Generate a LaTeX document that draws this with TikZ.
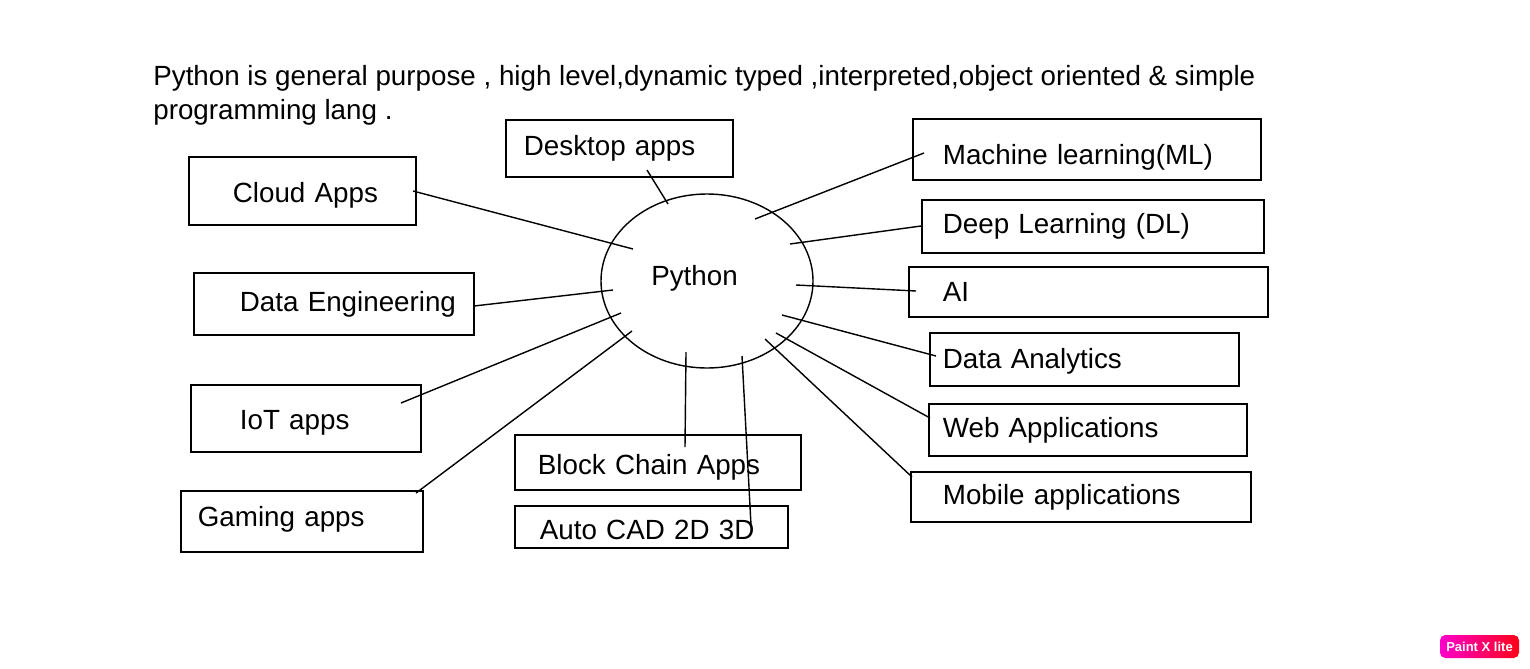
\documentclass[tikz,border=0pt]{standalone}
\usepackage{fontspec}
\setmainfont{Liberation Sans}
\usetikzlibrary{shapes.geometric}

\tikzset{
	appbox/.style={draw, line width=1pt, anchor=north west, align=left, inner xsep=0pt, font=\fontsize{15.8}{19}\selectfont},
	link/.style={line width=0.8pt}
}

\begin{document}
\begin{tikzpicture}
	\useasboundingbox (0,0) rectangle (30.6,-13.36);
	
	% title
	\node[anchor=north west, inner sep=0pt, align=left, font=\fontsize{15.8}{19.3}\selectfont] (title) at (3.06,-1.31)
	{Python is general purpose , high level,dynamic typed ,interpreted,object oriented \& simple\\programming lang .};
	
	% centre
	\node[ellipse, draw, line width=0.8pt, minimum width=4.24cm, minimum height=3.48cm, text depth=0.24cm, font=\fontsize{15.8}{19}\selectfont] (python) at (14.14,-5.62) {Python\kern0.5cm};
	
	% draw boxes left
	\node[appbox, minimum height=1.14cm, text width=4.54cm] (desktop) at (10.10,-2.38) {\hspace*{0.36cm}Desktop apps};
	\node[appbox, minimum height=1.36cm, text width=4.54cm, text height=0.57cm, text depth=0.12cm] (cloud) at (3.76,-3.12) {\hspace*{0.88cm}Cloud Apps};
	\node[appbox, minimum height=1.24cm, text width=5.60cm] (dataeng) at (3.86,-5.44) {\hspace*{0.92cm}Data Engineering};
	\node[appbox, minimum height=1.34cm, text width=4.60cm, text height=0.57cm, text depth=0.12cm] (iot) at (3.80,-7.68) {\hspace*{0.98cm}IoT apps};
	\node[appbox, minimum height=1.22cm, text width=4.84cm, text depth=0.20cm] (gaming) at (3.60,-9.80) {\hspace*{0.34cm}Gaming apps};
	\node[appbox, minimum height=1.10cm, text width=5.72cm, text height=0.60cm, text depth=0.12cm] (block) at (10.28,-8.68) {\hspace*{0.46cm}Block Chain Apps};
	\node[appbox, minimum height=0.84cm, text width=5.46cm, text height=0.52cm, text depth=0cm, inner ysep=0pt] (autocad) at (10.28,-10.10) {\hspace*{0.50cm}Auto CAD 2D 3D};
	
	% draw boxes right
	\node[appbox, minimum height=1.22cm, text width=6.96cm, text height=0.72cm, text depth=0.12cm, inner ysep=0.15cm] (ml) at (18.24,-2.36) {\hspace*{0.60cm}Machine learning(ML)};
	\node[appbox, minimum height=1.06cm, text width=6.84cm] (dl) at (18.42,-3.98) {\hspace*{0.42cm}Deep Learning (DL)};
	\node[appbox, minimum height=1.00cm, text width=7.18cm] (ai) at (18.16,-5.32) {\hspace*{0.68cm}AI};
	\node[appbox, minimum height=1.06cm, text width=6.18cm, text height=0.49cm, text depth=0.12cm] (analytics) at (18.58,-6.64) {\hspace*{0.26cm}Data Analytics};
	\node[appbox, minimum height=1.04cm, text width=6.36cm] (web) at (18.56,-8.06) {\hspace*{0.28cm}Web Applications};
	\node[appbox, minimum height=1.00cm, text width=6.80cm] (mobile) at (18.20,-9.42) {\hspace*{0.64cm}Mobile applications};
	
	% line ends
	\coordinate (cloud-a) at (8.26,-3.82);     \coordinate (cloud-b) at (12.66,-4.98);
	\coordinate (desktop-a) at (12.94,-3.40);  \coordinate (desktop-b) at (13.36,-4.08);
	\coordinate (ml-a) at (18.48,-3.06);       \coordinate (ml-b) at (15.10,-4.38);
	\coordinate (dl-a) at (18.42,-4.52);       \coordinate (dl-b) at (15.80,-4.88);
	\coordinate (ai-a) at (18.32,-5.82);       \coordinate (ai-b) at (15.92,-5.70);
	\coordinate (dataeng-a) at (9.48,-6.12);   \coordinate (dataeng-b) at (12.26,-5.80);
	\coordinate (iot-a) at (8.02,-8.06);       \coordinate (iot-b) at (12.42,-6.26);
	\coordinate (gaming-a) at (8.32,-9.86);    \coordinate (gaming-b) at (12.64,-6.62);
	\coordinate (block-a) at (13.70,-8.94);    \coordinate (block-b) at (13.72,-7.04);
	\coordinate (autocad-a) at (15.02,-10.50); \coordinate (autocad-b) at (14.84,-7.12);
	\coordinate (analytics-a) at (18.72,-7.12); \coordinate (analytics-b) at (15.64,-6.30);
	\coordinate (web-a) at (18.60,-8.36);      \coordinate (web-b) at (15.52,-6.66);
	\coordinate (mobile-a) at (18.24,-9.54);   \coordinate (mobile-b) at (15.30,-6.78);
	
	% draw lines
	\foreach \n in {cloud,desktop,ml,dl,ai,dataeng,iot,gaming,block,autocad,analytics,web,mobile}
		\draw[link] (\n-a) -- (\n-b);
	
	% badge
	\shade[left color=magenta!80!red, right color=red!90!magenta, rounded corners=3pt] (28.80,-12.70) rectangle (30.38,-13.16);
	\node[text=white, font=\fontsize{7.4}{8}\selectfont\bfseries] (badge) at (29.59,-12.93) {Paint X lite};
	
\end{tikzpicture}
\end{document}
